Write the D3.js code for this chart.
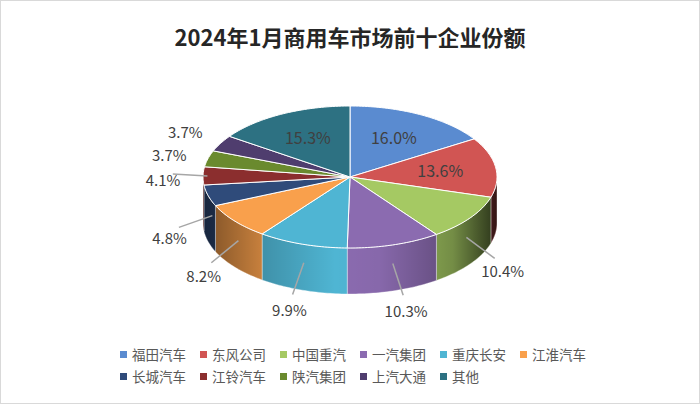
<!DOCTYPE html>
<html><head><meta charset="utf-8">
<script src="https://cdn.jsdelivr.net/npm/d3@7"></script>
<style>
body{margin:0;background:#fff;font-family:"Noto Sans CJK SC","Noto Sans",sans-serif;}
</style></head>
<body>
<script>
// Chart data
const companies = ["福田汽车","东风公司","中国重汽","一汽集团","重庆长安","江淮汽车","长城汽车","江铃汽车","陕汽集团","上汽大通","其他"];
const shares = [16.0,13.6,10.4,10.3,9.9,8.2,4.8,4.1,3.7,3.7,15.3];
const colors = ["#5A8BD0","#D15553","#A5C963","#8B6BB0","#4FB5D3","#F9A04C","#2F4B7A","#8B2E2E","#6A8A2E","#4F3D6E","#2D7182"];
const insideLabels = ["福田汽车","东风公司","其他"];
const leaderLabels = ["中国重汽","一汽集团","重庆长安","江淮汽车","长城汽车","江铃汽车"];

const width = 700, height = 404;
const cx = 350, cy = 177, rx = 147, ry = 71, depth = 46;

const svg = d3.select("body").append("svg").attr("width", width).attr("height", height);
svg.append("rect").attr("x",0.5).attr("y",0.5).attr("width",width-1).attr("height",height-1)
    .attr("fill","#fff").attr("stroke","#d9d9d9");

svg.append("text").attr("x", width/2).attr("y", 46).attr("text-anchor","middle")
    .attr("font-size", 22).attr("font-weight","bold").attr("fill","#262626")
    .text("2024年1月商用车市场前十企业份额");

// angles clockwise from 12 o'clock
const pie = d3.pie().sort(null).value(d => d)
    .startAngle(0).endAngle(2*Math.PI);
const arcs = pie(shares);

const pt = (a, k=1, dy=0) => [cx + k*rx*Math.sin(a), cy - k*ry*Math.cos(a) + dy];

function arcPts(a0, a1, dy) {
    const n = Math.max(2, Math.ceil((a1-a0)/0.02));
    return d3.range(n+1).map(i => pt(a0 + (a1-a0)*i/n, 1, dy));
}

// side wall gradient overlay
const defs = svg.append("defs");
const g = defs.append("linearGradient").attr("id","shade")
    .attr("gradientUnits","userSpaceOnUse").attr("x1",cx-rx).attr("x2",cx+rx).attr("y1",0).attr("y2",0);
[[0,0.5],[0.2,0.2],[0.45,0.0],[0.6,0.03],[0.85,0.3],[1,0.75]].forEach(([o,a]) =>
    g.append("stop").attr("offset",o).attr("stop-color","#000").attr("stop-opacity",a));

const line = d3.line();
const walls = svg.append("g");
arcs.forEach((d, i) => {
    const a0 = Math.max(d.startAngle, Math.PI/2), a1 = Math.min(d.endAngle, 3*Math.PI/2);
    if (a1 <= a0) return;
    const top = arcPts(a0, a1, 0), bot = arcPts(a0, a1, depth).reverse();
    const p = line(top.concat(bot)) + "Z";
    walls.append("path").attr("d", p).attr("fill", colors[i]);
    walls.append("path").attr("d", p).attr("fill", "url(#shade)")
        .attr("stroke","#fff").attr("stroke-width",0.6).attr("stroke-opacity",0.6);
});

// top faces
arcs.forEach((d, i) => {
    const p = line([[cx,cy]].concat(arcPts(d.startAngle, d.endAngle, 0))) + "Z";
    svg.append("path").attr("d", p).attr("fill", colors[i])
        .attr("stroke","#fff").attr("stroke-width",1);
});

// labels
arcs.forEach((d, i) => {
    const a = (d.startAngle + d.endAngle)/2;
    const name = companies[i];
    const txt = shares[i].toFixed(1) + "%";
    if (insideLabels.includes(name)) {
        const [x, y] = pt(a, 0.62);
        svg.append("text").attr("x", x).attr("y", y + 6).attr("text-anchor","middle")
            .attr("font-size", 16).attr("fill","#404040").text(txt);
        return;
    }
    const front = Math.cos(a) < 0;
    const lx = cx + Math.sin(a)*(rx+40);
    const ly = cy - Math.cos(a)*(ry+35) + (front ? 34 : 6);
    if (leaderLabels.includes(name)) {
        const [ax, ay] = pt(a, 0.97, front ? depth*0.45 : 0);
        const ex = lx + (ax - lx)*0.22, ey = ly - 8 + (ay - ly + 8)*0.22;
        svg.append("line").attr("x1",ax).attr("y1",ay).attr("x2",ex).attr("y2",ey)
            .attr("stroke","#a6a6a6").attr("stroke-width",1.5);
    }
    svg.append("text").attr("x", lx).attr("y", ly + 5).attr("text-anchor","middle")
        .attr("font-size", 15).attr("fill","#404040").text(txt);
});

// legend
const rows = [companies.slice(0,6), companies.slice(6)];
rows.forEach((row, r) => {
    let x = 120;
    const y = 355 + r*22;
    row.forEach(name => {
        const i = companies.indexOf(name);
        svg.append("rect").attr("x", x).attr("y", y-4).attr("width",7).attr("height",7).attr("fill", colors[i]);
        const t = svg.append("text").attr("x", x+12).attr("y", y+5)
            .attr("font-size", 13.5).attr("fill","#595959").text(name);
        x += 12 + t.node().getComputedTextLength() + 14;
    });
});
</script>
</body></html>
